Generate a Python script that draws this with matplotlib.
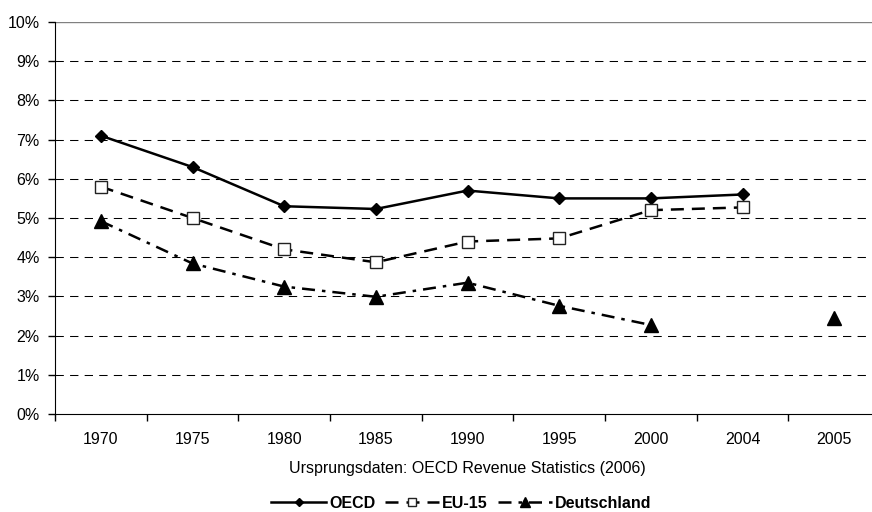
import numpy as np
import matplotlib
matplotlib.use('Agg')
import matplotlib.pyplot as plt
from matplotlib.ticker import FixedLocator, NullFormatter

plt.rcParams['font.family'] = ['Liberation Sans', 'DejaVu Sans']

years = ['1970', '1975', '1980', '1985', '1990', '1995', '2000', '2004', '2005']
oecd = [7.1, 6.3, 5.3, 5.23, 5.7, 5.5, 5.5, 5.6, np.nan]
eu15 = [5.8, 5.0, 4.2, 3.87, 4.4, 4.48, 5.2, 5.27, np.nan]
deutschland = [4.92, 3.84, 3.25, 2.99, 3.35, 2.76, 2.27, np.nan, 2.44]
source = 'Ursprungsdaten: OECD Revenue Statistics (2006)'

fig = plt.figure(figsize=(8.72, 5.12), dpi=100)
fig.patch.set_facecolor('white')
ax = fig.add_axes([55 / 872, 1 - 414 / 512, 825 / 872, 392 / 512])

x = np.arange(len(years))

# gridlines (10% line is solid gray)
for v in range(1, 10):
    ax.axhline(v, color='black', lw=0.75, ls=(0, (8, 6)), zorder=1)
ax.axhline(10, color='#808080', lw=1.0, zorder=1)

ax.plot(x, oecd, color='black', lw=1.8, marker='D', ms=6,
        mfc='black', mec='black', label='OECD', zorder=3)
ax.plot(x, eu15, color='black', lw=1.8, ls=(0, (5.2, 3.2)), marker='s', ms=8.5,
        mfc='white', mec='#222222', mew=1.0, label='EU-15', zorder=3)
ax.plot(x, deutschland, color='black', lw=1.8, ls=(0, (5.2, 2.8, 1.4, 2.8)),
        marker='^', ms=9.5, mfc='black', mec='black', label='Deutschland', zorder=3)

ax.set_xlim(-0.5, len(years) - 0.5)
ax.set_ylim(0, 10)
ax.set_yticks(range(0, 11))
ax.set_yticklabels(['%d%%' % v for v in range(0, 11)])

ax.xaxis.set_major_locator(FixedLocator(np.arange(-0.5, len(years), 1.0)))
ax.xaxis.set_major_formatter(NullFormatter())
ax.xaxis.set_minor_locator(FixedLocator(x))
ax.set_xticklabels(years, minor=True)
ax.tick_params(axis='x', which='major', length=5, direction='out', width=1)
ax.tick_params(axis='x', which='minor', length=0, pad=13, labelsize=11.5)
ax.tick_params(axis='y', length=5, direction='out', width=1, pad=6, labelsize=11.5)

for s in ['top', 'right']:
    ax.spines[s].set_visible(False)
ax.spines['left'].set_color('black')
ax.spines['bottom'].set_color('black')

fig.text(467.5 / 872, 1 - 468 / 512, source, ha='center', va='center', fontsize=11.5)

leg = fig.legend(loc='center', bbox_to_anchor=(461.5 / 872, 1 - 503 / 512), ncol=3,
                 frameon=False, prop={'weight': 'bold', 'size': 11.5},
                 handlelength=3.4, handletextpad=0.2, columnspacing=0.6,
                 markerscale=0.75, borderpad=0)

fig.savefig('out.png', dpi=100)
